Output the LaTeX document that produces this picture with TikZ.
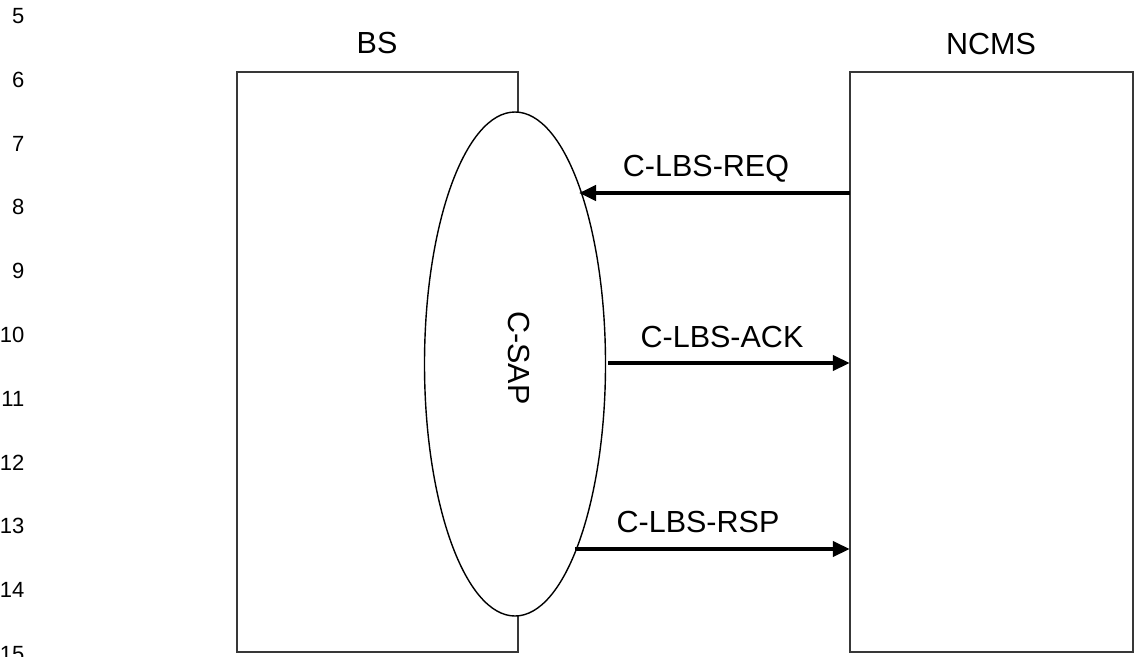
\documentclass[tikz,border=0pt]{standalone}
\usepackage{fontspec}
\setmainfont{Liberation Sans}
\usetikzlibrary{arrows.meta,shapes.geometric}
\begin{document}
\begin{tikzpicture}[x=1pt,y=-1pt,
  entity/.style={draw=black!78,line width=1.8pt,fill=white},
  sapshape/.style={draw=black,line width=1.4pt,fill=white,ellipse,inner sep=0pt,
    minimum width=181pt,minimum height=504pt},
  lbl/.style={inner sep=0pt,anchor=base,font=\fontsize{30.5}{36}\selectfont},
  linenum/.style={inner sep=0pt,anchor=east,font=\fontsize{22}{26}\selectfont},
  msg/.style={line width=4pt,-{Triangle[length=17pt,width=15pt]}}]
\useasboundingbox (0,0) rectangle (1134,656);
\clip (0,0) rectangle (1134,656);
\fill[white] (0,0) rectangle (1134,656);
% line numbers
\foreach \n in {5,...,15}{
  \node[linenum] (ln\n) at (24.5,{16+(\n-5)*63.8}) {\n};
}
% boxes
\path[entity] (237,72) rectangle (518,652);
\node[inner sep=0pt,minimum width=281pt,minimum height=580pt] (bs) at (377.5,362) {};
\path[entity] (850,72) rectangle (1133,652);
\node[inner sep=0pt,minimum width=283pt,minimum height=580pt] (ncms) at (991.5,362) {};
% titles
\node[lbl] (bslbl) at (377,53) {BS};
\node[lbl] (ncmslbl) at (991,54) {NCMS};
% C-SAP ellipse
\node[sapshape] (sap) at (515,364) {};
\node[inner sep=0pt,rotate=-90,font=\fontsize{30.5}{36}\selectfont] (saplbl) at (519,358) {C-SAP};
% arrow end points on the ellipse
\coordinate (reqend) at (579,193);
\coordinate (ackstart) at (608,363);
\coordinate (rspstart) at (575,549);
% messages
\draw[msg] (ncms.west |- reqend) -- (reqend);
\draw[msg] (ackstart) -- (ncms.west |- ackstart);
\draw[msg] (rspstart) -- (ncms.west |- rspstart);
\node[lbl] (reqlbl) at (706,176) {C-LBS-REQ};
\node[lbl] (acklbl) at (722,347) {C-LBS-ACK};
\node[lbl] (rsplbl) at (698,532) {C-LBS-RSP};
\end{tikzpicture}
\end{document}
